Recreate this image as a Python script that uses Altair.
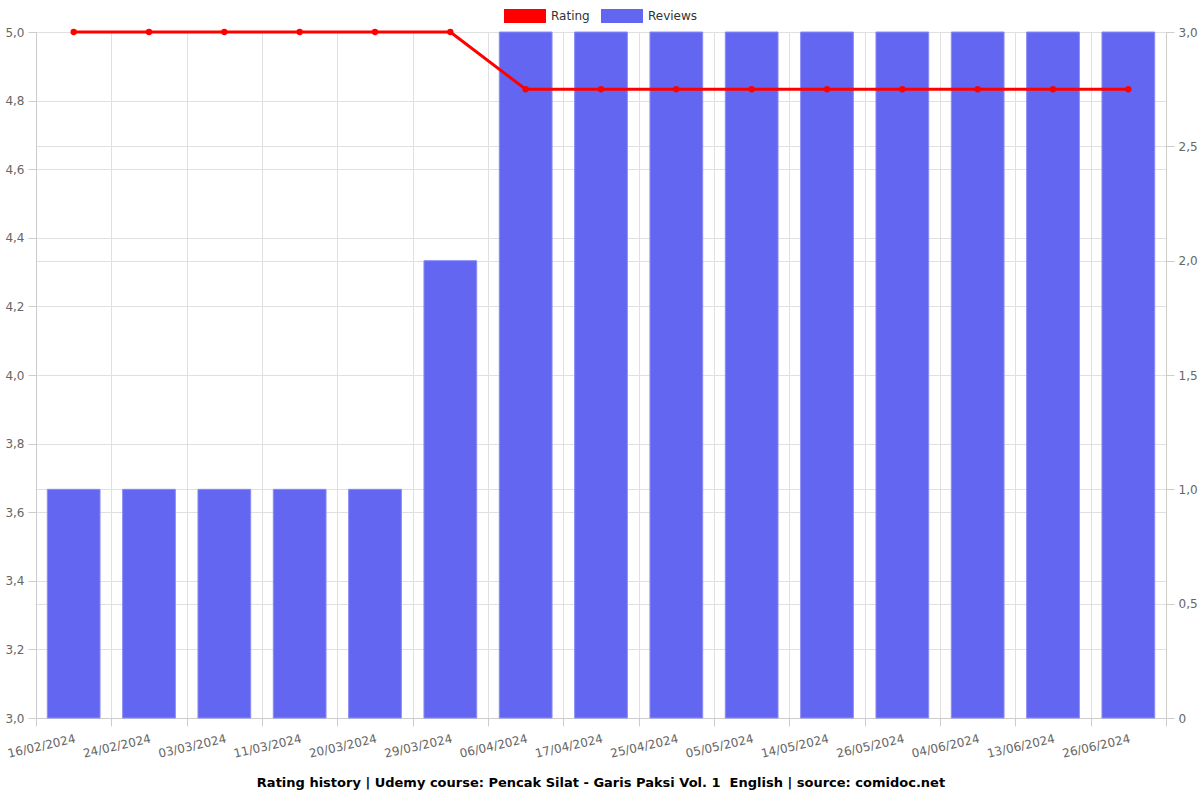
import altair as alt
import pandas as pd

dates = ["16/02/2024", "24/02/2024", "03/03/2024", "11/03/2024", "20/03/2024",
         "29/03/2024", "06/04/2024", "17/04/2024", "25/04/2024", "05/05/2024",
         "14/05/2024", "26/05/2024", "04/06/2024", "13/06/2024", "26/06/2024"]
reviews = [1, 1, 1, 1, 1, 2, 3, 3, 3, 3, 3, 3, 3, 3, 3]
rating = [5.0, 5.0, 5.0, 5.0, 5.0, 5.0, 4.833, 4.833, 4.833, 4.833, 4.833, 4.833, 4.833, 4.833, 4.833]

df = pd.DataFrame({"date": dates, "reviews": reviews, "rating": rating})

FONT = "DejaVu Sans"
LABEL = "#666666"
GRID = "#e0e0e0"
BLUE = "#6366f1"
RED = "#ff0000"

x_enc = alt.X("date:N", sort=dates, title=None,
              scale=alt.Scale(paddingInner=0, paddingOuter=0),
              axis=alt.Axis(labelAngle=-13, labelAlign="right", labelBaseline="top",
                            tickBand="extent", grid=True, gridColor=GRID,
                            domainColor="#cccccc", tickColor="#cccccc", tickSize=8,
                            labelColor=LABEL, labelFontSize=12, labelFont=FONT,
                            labelPadding=7, labelOverlap=False))

bars = alt.Chart(df).transform_calculate(series="'Reviews'").mark_bar(
    stroke="#8a8cf5", strokeWidth=1, width={"band": 0.7}
).encode(
    x=x_enc,
    y=alt.Y("reviews:Q", title=None,
            scale=alt.Scale(domain=[0, 3], nice=False, zero=True),
            axis=alt.Axis(orient="right", values=[0, 0.5, 1, 1.5, 2, 2.5, 3],
                          labelExpr="datum.value == 0 ? '0' : replace(format(datum.value, '.1f'), '.', ',')",
                          grid=True, gridColor=GRID, domainColor="#cccccc",
                          tickColor="#cccccc", tickSize=8, labelColor=LABEL,
                          labelFontSize=12, labelFont=FONT, labelPadding=4)),
    color=alt.Color("series:N",
                    scale=alt.Scale(domain=["Rating", "Reviews"], range=[RED, BLUE]),
                    legend=alt.Legend(title=None, orient="none", legendX=475, legendY=-30,
                                      direction="horizontal",
                                      symbolType="M-1.5,-0.5H1.5V0.5H-1.5Z",
                                      symbolSize=784, symbolStrokeWidth=0,
                                      symbolOpacity=1,
                                      labelFont=FONT, labelFontSize=12, labelColor="#333333",
                                      columnPadding=11, labelOffset=12))
)

line = alt.Chart(df).mark_line(
    color=RED, strokeWidth=3, point=alt.OverlayMarkDef(color=RED, size=40, filled=True, opacity=1)
).encode(
    x=x_enc,
    y=alt.Y("rating:Q", title=None,
            scale=alt.Scale(domain=[3, 5], nice=False, zero=False),
            axis=alt.Axis(orient="left", values=[3.0, 3.2, 3.4, 3.6, 3.8, 4.0, 4.2, 4.4, 4.6, 4.8, 5.0],
                          labelExpr="replace(format(datum.value, '.1f'), '.', ',')",
                          grid=True, gridColor=GRID, domainColor="#cccccc",
                          tickColor="#cccccc", tickSize=8, labelColor=LABEL,
                          labelFontSize=12, labelFont=FONT, labelPadding=4))
)

chart = alt.layer(bars, line).resolve_scale(y="independent").properties(
    width=1130, height=686,
    autosize=alt.AutoSizeParams(type="none"),
    padding={"left": 36, "top": 32, "right": 34, "bottom": 82},
    title=alt.Title("Rating history | Udemy course: Pencak Silat - Garis Paksi Vol. 1\u00a0 English | source: comidoc.net",
                    orient="bottom", font=FONT, fontSize=13, fontWeight="bold",
                    color="#000000", offset=18, anchor="middle")
).configure_view(stroke=None).configure(background="white")

chart.save("out.html", embed_options={"renderer": "svg", "actions": False})
